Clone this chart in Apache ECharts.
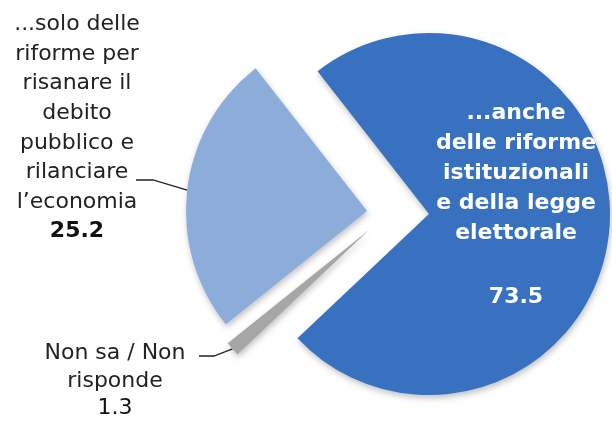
<!DOCTYPE html>
<html>
<head>
<meta charset="utf-8">
<script src="https://cdn.jsdelivr.net/npm/echarts@6/dist/echarts.min.js"></script>
<style>
html,body{margin:0;padding:0;background:#fff;}
#c{width:612px;height:425px;}
</style>
</head>
<body>
<div id="c"></div>
<script>
// Data
const categories = [
  '...anche\ndelle riforme\nistituzionali\ne della legge\nelettorale',
  'Non sa / Non\nrisponde',
  '...solo delle\nriforme per\nrisanare il\ndebito\npubblico e\nrilanciare\nl\u2019economia'
];
const values = [73.5, 1.3, 25.2];
const colors = ['#3771c0', '#a6a6a6', '#8cadda'];

// layout per slice (exploded pieces)
const R = 181;
const centers = [[429, 214], [369, 230], [367, 211]];
const labelPos = [[516, 207], [115, 381], [77, 128]];
// leader line ends (label side): [elbow, end]
const leaderEnds = [null, [[214, 356], [199, 356]], [[153, 180], [136, 180]]];
const FONT = 'DejaVu Sans, Verdana, sans-serif';

const chart = echarts.init(document.getElementById('c'));

function makeSeries(k) {
  const data = values.map((v, i) => {
    const item = { name: categories[i], value: v };
    if (i !== k) {
      item.itemStyle = { color: 'rgba(0,0,0,0)', shadowBlur: 0, shadowColor: 'rgba(0,0,0,0)' };
      item.label = { show: false };
      item.labelLine = { show: false };
      item.emphasis = { disabled: true };
    }
    return item;
  });
  let label, labelLine;
  if (k === 0) {
    label = {
      show: true, position: 'inside',
      formatter: p => '{t|' + p.name + '}\n{g|}\n{v|' + p.value.toFixed(1) + '}',
      rich: {
        t: { color: '#fff', fontSize: 22, fontWeight: 'bold', fontFamily: FONT, lineHeight: 30, align: 'center' },
        g: { lineHeight: 30 },
        v: { color: '#fff', fontSize: 22, fontWeight: 'bold', fontFamily: FONT, lineHeight: 38, align: 'center' }
      }
    };
    labelLine = { show: false };
  } else {
    const lh = k === 2 ? 29.6 : 27.5;
    label = {
      show: true, position: 'outside',
      formatter: p => '{t|' + p.name + '}\n{v|' + p.value.toFixed(1) + '}',
      rich: {
        t: { color: '#222', fontSize: 22, fontFamily: FONT, lineHeight: lh, align: 'center' },
        v: { color: '#111', fontSize: 22, fontWeight: k === 2 ? 'bold' : 'normal', fontFamily: FONT, lineHeight: lh, align: 'center' }
      }
    };
    labelLine = { show: true, length: 20, length2: 20, smooth: false, lineStyle: { color: '#222', width: 1.3 } };
  }
  return {
    type: 'pie',
    center: centers[k],
    radius: [0, R],
    startAngle: 128,
    clockwise: true,
    silent: true,
    avoidLabelOverlap: false,
    itemStyle: {
      color: colors[k],
      shadowBlur: 6, shadowColor: 'rgba(0,0,0,0.25)', shadowOffsetX: 1, shadowOffsetY: 3
    },
    label: label,
    labelLine: labelLine,
    labelLayout: function (p) {
      if (p.dataIndex !== k) return {};
      const out = { x: labelPos[k][0], y: labelPos[k][1], align: 'center', verticalAlign: 'middle' };
      if (leaderEnds[k] && p.labelLinePoints) {
        out.labelLinePoints = [p.labelLinePoints[0], leaderEnds[k][0], leaderEnds[k][1]];
      }
      return out;
    },
    data: data,
    animation: false
  };
}

chart.setOption({
  backgroundColor: '#fff',
  series: [makeSeries(2), makeSeries(1), makeSeries(0)]
});
</script>
</body>
</html>
